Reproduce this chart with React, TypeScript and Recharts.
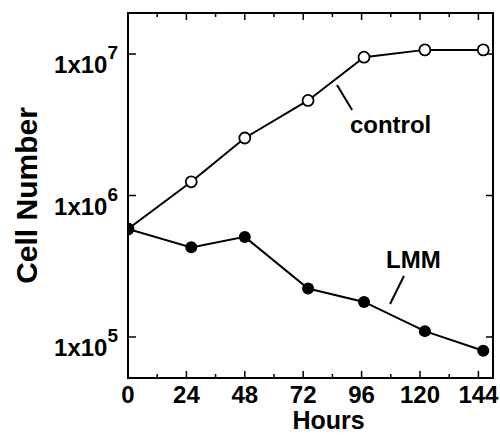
import React from 'react';
import { LineChart, Line, XAxis, YAxis, ReferenceLine, ReferenceDot, ReferenceArea } from 'recharts';

// values (log scale)
const HOURS = [0, 26, 48, 74, 97, 122, 146];
const CONTROL = [5.8e5, 1.25e6, 2.55e6, 4.7e6, 9.5e6, 1.07e7, 1.07e7];
const LMM = [5.8e5, 4.3e5, 5.1e5, 2.2e5, 1.77e5, 1.1e5, 8.0e4];

const X_TICKS = [0, 12, 24, 36, 48, 60, 72, 84, 96, 108, 120, 132, 144];
const X_LABELS = [0, 24, 48, 72, 96, 120, 144];
const Y_TICKS = [1e5, 1e6, 1e7];
const X_DOMAIN = [0, 150];
const Y_DOMAIN = [5.13e4, 1.95e7];

const FONT = '"Liberation Sans", Arial, Helvetica, sans-serif';

const data = HOURS.map((h, i) => ({ hours: h, control: CONTROL[i], lmm: LMM[i] }));

const BottomTick = (props: any) => {
  const { x, y, payload } = props;
  return (
    <text x={x} y={y + 25} textAnchor="middle" fontFamily={FONT} fontWeight="bold" fontSize={24} fill="#000">
      {payload.value}
    </text>
  );
};

const LeftTick = (props: any) => {
  const { x, y, payload } = props;
  const exp = Math.round(Math.log10(payload.value));
  return (
    <text x={x - 10} y={y + 19} textAnchor="end" fontFamily={FONT} fontWeight="bold" fontSize={24} fill="#000">
      1x10
      <tspan dy={-14} fontSize={19}>{exp}</tspan>
    </text>
  );
};

// inward tick marks on bottom + top edges
const vTick = (len: number) => (p: any) => {
  const top = Math.min(p.y1, p.y2);
  const bot = Math.max(p.y1, p.y2);
  return (
    <g>
      <line x1={p.x1} x2={p.x1} y1={bot} y2={bot - len} stroke="#000" strokeWidth={1.5} />
      <line x1={p.x1} x2={p.x1} y1={top} y2={top + len} stroke="#000" strokeWidth={1.5} />
    </g>
  );
};

// inward tick marks on left + right edges
const hTick = (p: any) => {
  const left = Math.min(p.x1, p.x2);
  const right = Math.max(p.x1, p.x2);
  return (
    <g>
      <line x1={left} x2={left + 8} y1={p.y1} y2={p.y1} stroke="#000" strokeWidth={1.5} />
      <line x1={right} x2={right - 7} y1={p.y1} y2={p.y1} stroke="#000" strokeWidth={1.5} />
    </g>
  );
};

const OpenDot = (props: any) => {
  const { cx, cy, index } = props;
  return <circle key={index} cx={cx} cy={cy} r={5.5} fill="#fff" stroke="#000" strokeWidth={1.8} />;
};

const FilledDot = (props: any) => {
  const { cx, cy, index } = props;
  return <circle key={index} cx={cx} cy={cy} r={6} fill="#000" stroke="none" />;
};

const note = (txt: string) => (p: any) => (
  <text x={p.cx} y={p.cy} textAnchor="middle" fontFamily={FONT} fontWeight="bold" fontSize={24} fill="#000">
    {txt}
  </text>
);

export default function App() {
  return (
    <div style={{ position: 'absolute', left: 0, top: 0, width: 500, height: 435, background: '#fff' }}>
      <LineChart width={500} height={435} data={data} margin={{ top: 13, right: 7, left: 0, bottom: 0 }}>
        <XAxis
          dataKey="hours"
          type="number"
          domain={X_DOMAIN}
          ticks={X_LABELS}
          allowDataOverflow
          height={57}
          tickSize={0}
          tickMargin={0}
          tickLine={false}
          axisLine={false}
          tick={<BottomTick />}
          interval={0}
          label={{
            content: (p: any) => {
              const vb = p.viewBox;
              return (
                <text x={vb.x + vb.width / 2 + 18} y={vb.y + 51} textAnchor="middle" fontFamily={FONT} fontWeight="bold" fontSize={25} fill="#000">
                  Hours
                </text>
              );
            },
          }}
        />
        <YAxis
          type="number"
          scale="log"
          domain={Y_DOMAIN}
          ticks={Y_TICKS}
          allowDataOverflow
          width={128}
          tickSize={0}
          tickMargin={0}
          tickLine={false}
          axisLine={false}
          tick={<LeftTick />}
          interval={0}
          label={{
            content: (p: any) => {
              const vb = p.viewBox;
              const cx = vb.x + 37;
              const cy = vb.y + vb.height / 2;
              return (
                <text x={cx} y={cy} transform={`rotate(-90 ${cx} ${cy})`} textAnchor="middle" fontFamily={FONT} fontWeight="bold" fontSize={30} fill="#000">
                  Cell Number
                </text>
              );
            },
          }}
        />
        <ReferenceArea x1={X_DOMAIN[0]} x2={X_DOMAIN[1]} y1={Y_DOMAIN[0]} y2={Y_DOMAIN[1]} fill="none" fillOpacity={0} stroke="#000" strokeWidth={2} strokeOpacity={1} ifOverflow="visible" />
        {X_TICKS.map((t) => (
          <ReferenceLine key={`xt${t}`} x={t} stroke="none" shape={vTick(t % 24 === 0 ? 7 : 4)} />
        ))}
        {Y_TICKS.map((t) => (
          <ReferenceLine key={`yt${t}`} y={t} stroke="none" shape={hTick} />
        ))}
        <Line dataKey="control" stroke="#000" strokeWidth={2} dot={<OpenDot />} activeDot={false} isAnimationActive={false} />
        <Line dataKey="lmm" stroke="#000" strokeWidth={2} dot={<FilledDot />} activeDot={false} isAnimationActive={false} />
        <ReferenceLine segment={[{ x: 85.9, y: 6.04e6 }, { x: 92.1, y: 4.02e6 }]} stroke="#000" strokeWidth={2} />
        <ReferenceLine segment={[{ x: 113.4, y: 2.7e5 }, { x: 107.7, y: 1.71e5 }]} stroke="#000" strokeWidth={2} />
        <ReferenceDot x={107.9} y={2.77e6} r={0} shape={note('control')} />
        <ReferenceDot x={117.3} y={3.08e5} r={0} shape={note('LMM')} />
      </LineChart>
    </div>
  );
}
